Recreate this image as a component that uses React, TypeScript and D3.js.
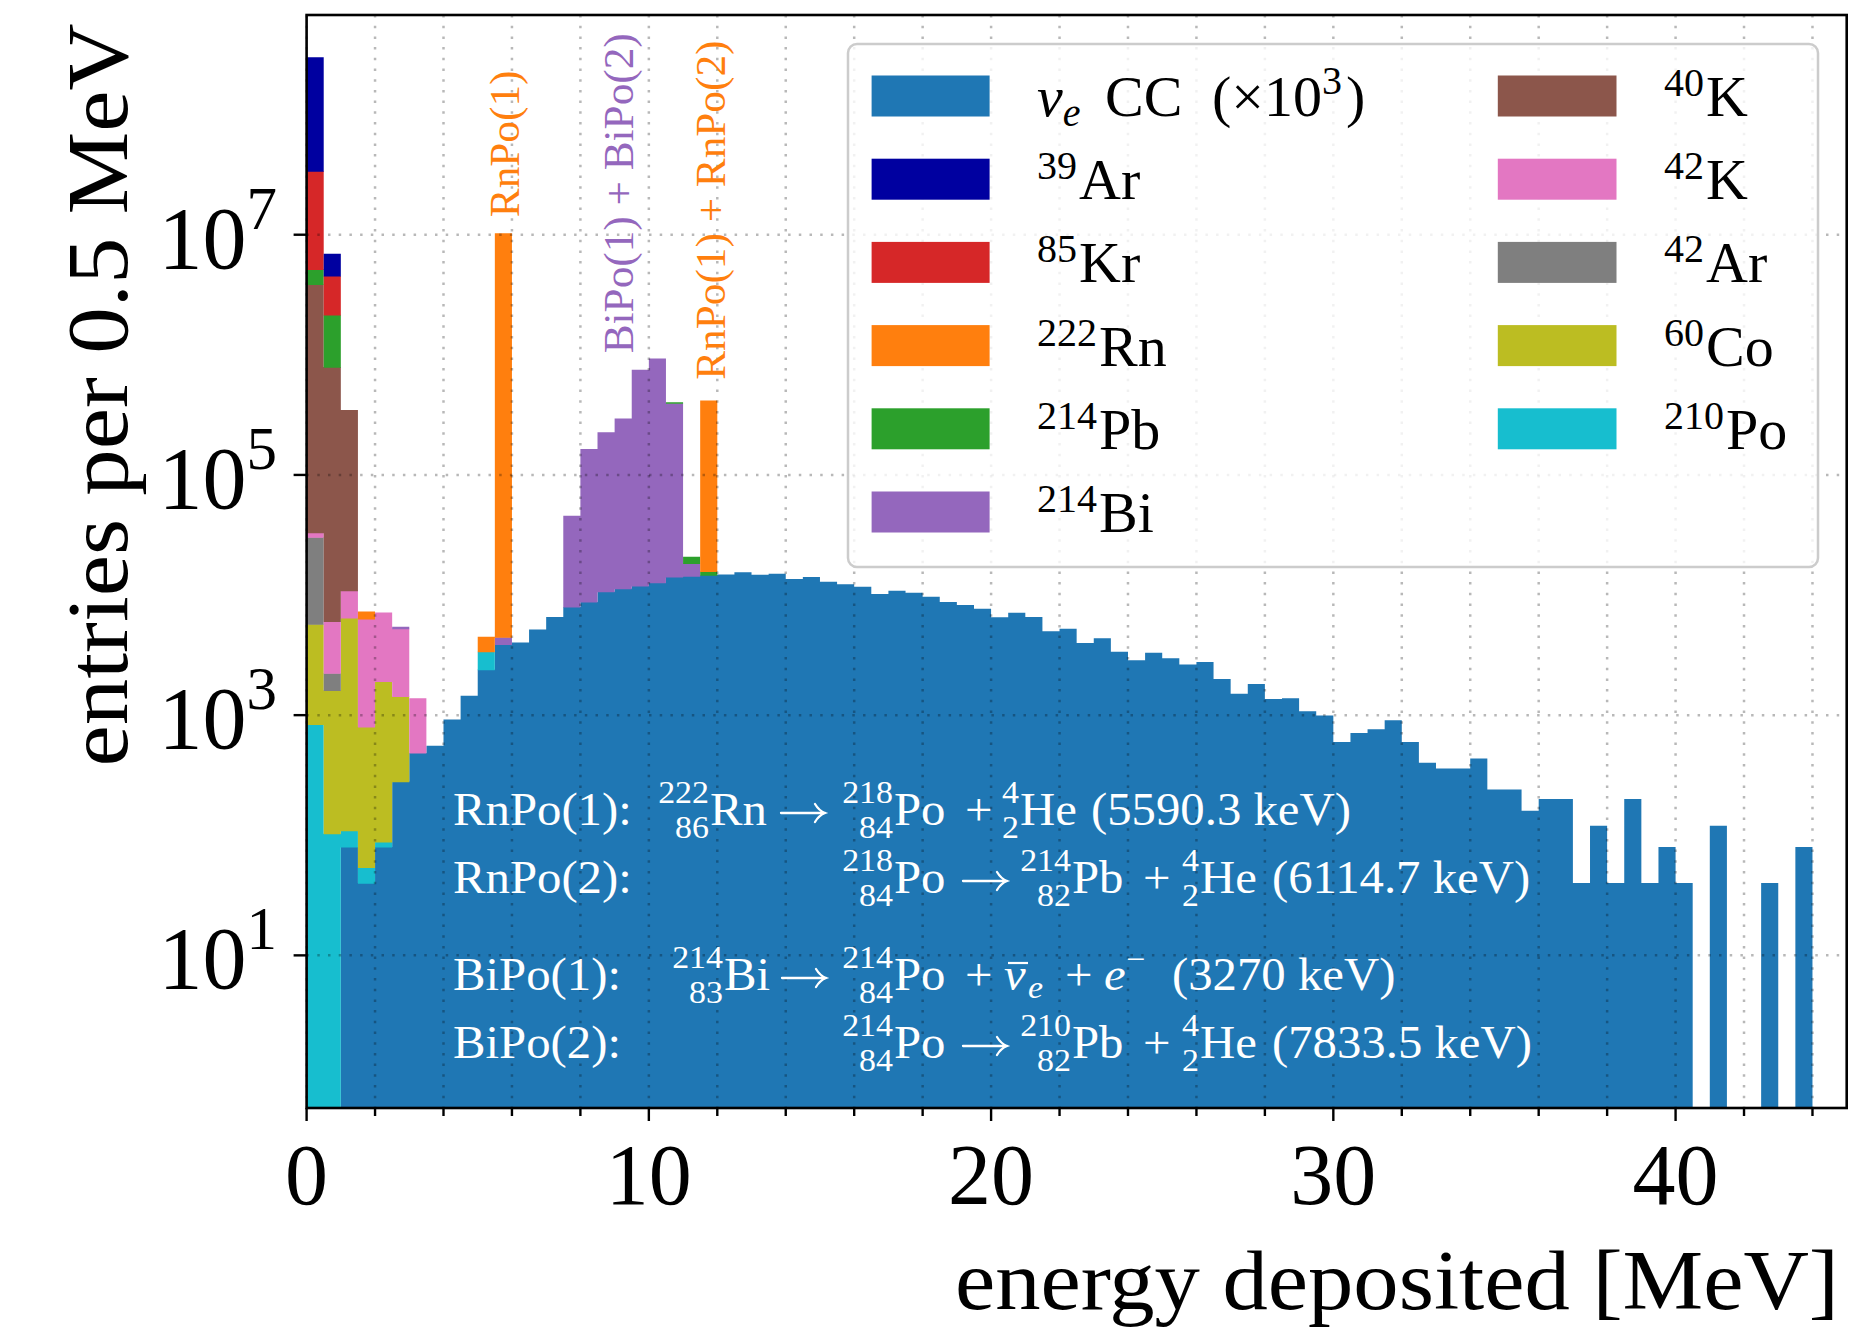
import React from 'react';
import * as d3 from 'd3';

const BIN = 0.5;
const N_BINS = 88;

// nu_e CC (x10^3) entries per 0.5 MeV bin, bins from 0 to 44 MeV
const nueCC = [
  0, 0, 80, 40, 80, 280, 485, 556, 918, 1452,
  2394, 3890, 4027, 5164, 6561, 7950, 8770, 10670, 11320, 11940,
  12670, 14160, 14390, 14660, 14860, 15450, 14760, 15070, 13580, 14130,
  12910, 12270, 11720, 10190, 10860, 10450, 9680, 8750, 8260, 7690,
  6520, 7130, 6560, 4990, 5250, 3980, 4370, 3370, 2870, 3300,
  2970, 2640, 2770, 2000, 1510, 1820, 1360, 1380, 1080, 995,
  598, 711, 764, 908, 598, 402, 360, 360, 436, 240,
  240, 160, 200, 200, 40, 120, 40, 200, 40, 80,
  40, 0, 120, 0, 0, 40, 0, 80,
];

// backgrounds: [bin low edge in MeV, entries]
const po210: [number, number][] = [[0, 839], [0.5, 103], [1, 29], [1.5, 14], [2, 8], [5, 979]];
const co60: [number, number][] = [[0, 4876], [0.5, 1504], [1, 6347], [1.5, 746], [2, 1822], [2.5, 1151]];
const ar42: [number, number][] = [[0, 24600], [0.5, 627]];
const k42: [number, number][] = [[0, 2700], [0.5, 3790], [1, 4430], [1.5, 5520], [2, 5250], [2.5, 3830], [3, 900]];
const k40: [number, number][] = [[0, 3.82e6], [0.5, 7.85e5], [1, 3.37e5]];
const bi214: [number, number][] = [
  [2.5, 185], [5.5, 567], [7.5, 37800], [8, 156000], [8.5, 216000], [9, 284000],
  [9.5, 740000], [10, 918000], [10.5, 381000], [11, 3930],
];
const pb214: [number, number][] = [[0, 1.3e6], [0.5, 1.36e6], [10.5, 8000], [11, 2480], [11.5, 1040]];
const rn222: [number, number][] = [[1.5, 987], [5, 1118], [5.5, 1.03e7], [11.5, 4.0e5]];
const kr85: [number, number][] = [[0, 2.87e7], [0.5, 2.39e6]];
const ar39: [number, number][] = [[0, 2.67e8], [0.5, 2.41e6]];

const xTicksMajor = [0, 10, 20, 30, 40];
const yTicks = [1e1, 1e3, 1e5, 1e7];

const toBins = (pairs: [number, number][]) => {
  const arr = new Array(N_BINS).fill(0);
  pairs.forEach(([e, v]) => { arr[Math.round(e / BIN)] = v; });
  return arr;
};

// stacking order, bottom to top
const stackDefs = [
  { key: 'nue', color: '#1f77b4', values: nueCC },
  { key: 'po210', color: '#17becf', values: toBins(po210) },
  { key: 'co60', color: '#bcbd22', values: toBins(co60) },
  { key: 'ar42', color: '#7f7f7f', values: toBins(ar42) },
  { key: 'k42', color: '#e377c2', values: toBins(k42) },
  { key: 'k40', color: '#8c564b', values: toBins(k40) },
  { key: 'bi214', color: '#9467bd', values: toBins(bi214) },
  { key: 'pb214', color: '#2ca02c', values: toBins(pb214) },
  { key: 'rn222', color: '#ff7f0e', values: toBins(rn222) },
  { key: 'kr85', color: '#d62728', values: toBins(kr85) },
  { key: 'ar39', color: '#0000a0', values: toBins(ar39) },
];
const colorOf: Record<string, string> = {};
stackDefs.forEach(s => { colorOf[s.key] = s.color; });

const legendLeft: [string, string, string][] = [
  ['nue', '', ''], ['ar39', '39', 'Ar'], ['kr85', '85', 'Kr'],
  ['rn222', '222', 'Rn'], ['pb214', '214', 'Pb'], ['bi214', '214', 'Bi'],
];
const legendRight: [string, string, string][] = [
  ['k40', '40', 'K'], ['k42', '42', 'K'], ['ar42', '42', 'Ar'],
  ['co60', '60', 'Co'], ['po210', '210', 'Po'],
];

const peakLabels = [
  { text: 'RnPo(1)', e: 5.75, at: 1.4e7, color: '#ff7f0e' },
  { text: 'BiPo(1) + BiPo(2)', e: 9.07, at: 1.03e6, color: '#9467bd' },
  { text: 'RnPo(1) + RnPo(2)', e: 11.76, at: 6.2e5, color: '#ff7f0e' },
];

type Seg = { x: number; t?: string; nuc?: [string, string, string]; kind?: string };
const decayLines: { y: number; segs: Seg[] }[] = [
  { y: 825, segs: [
    { x: 453, t: 'RnPo(1):' }, { x: 710, nuc: ['222', '86', 'Rn'] }, { x: 781, kind: 'arrow' },
    { x: 894, nuc: ['218', '84', 'Po'] }, { x: 965, t: '+' }, { x: 1020, nuc: ['4', '2', 'He'] },
    { x: 1091, t: '(5590.3 keV)' },
  ] },
  { y: 893, segs: [
    { x: 453, t: 'RnPo(2):' }, { x: 894, nuc: ['218', '84', 'Po'] }, { x: 963, kind: 'arrow' },
    { x: 1072, nuc: ['214', '82', 'Pb'] }, { x: 1143, t: '+' }, { x: 1200, nuc: ['4', '2', 'He'] },
    { x: 1272, t: '(6114.7 keV)' },
  ] },
  { y: 990, segs: [
    { x: 453, t: 'BiPo(1):' }, { x: 724, nuc: ['214', '83', 'Bi'] }, { x: 782, kind: 'arrow' },
    { x: 894, nuc: ['214', '84', 'Po'] }, { x: 965, t: '+' }, { x: 1004, kind: 'nubar' },
    { x: 1065, t: '+' }, { x: 1104, kind: 'electron' }, { x: 1172, t: '(3270 keV)' },
  ] },
  { y: 1058, segs: [
    { x: 453, t: 'BiPo(2):' }, { x: 894, nuc: ['214', '84', 'Po'] }, { x: 963, kind: 'arrow' },
    { x: 1072, nuc: ['210', '82', 'Pb'] }, { x: 1143, t: '+' }, { x: 1200, nuc: ['4', '2', 'He'] },
    { x: 1272, t: '(7833.5 keV)' },
  ] },
];

const W = 1849;
const H = 1332;
const left = 306.6;
const right = 1846.7;
const top = 15;
const bottom = 1108;
const yMin = 0.536;

const FONT = "'Liberation Serif', 'DejaVu Serif', serif";
const SX = 1.06; // widen glyphs a little, closer to Computer Modern

// text stretched horizontally around its anchor point
const T: React.FC<{ x: number; y: number; size?: number; anchor?: string; italic?: boolean; children: React.ReactNode }> =
  ({ x, y, size, anchor, italic, children }) => (
    <text transform={`translate(${x},${y}) scale(${SX},1)`} fontSize={size}
      textAnchor={anchor} fontStyle={italic ? 'italic' : undefined}>{children}</text>
  );

const App: React.FC = () => {
  const x = d3.scaleLinear().domain([0, 45]).range([left, right]);
  const y = d3.scaleLog().domain([yMin, 6.75e8]).range([bottom, top]).clamp(true);

  const rows = d3.range(N_BINS).map(i => {
    const r: Record<string, number> = {};
    stackDefs.forEach(s => { r[s.key] = s.values[i]; });
    return r;
  });
  const stacked = d3.stack<Record<string, number>>().keys(stackDefs.map(s => s.key))(rows);

  const seriesPath = (s: d3.Series<Record<string, number>, string>) =>
    s.map((pt, i) => {
      if (pt[1] - pt[0] <= 0) return '';
      const x0 = x(i * BIN);
      const x1 = x((i + 1) * BIN);
      const yt = y(Math.max(pt[1], yMin));
      const yb = pt[0] > yMin ? y(pt[0]) + 0.6 : bottom;
      return `M${x0},${yt}H${x1}V${yb}H${x0}Z`;
    }).join('');

  const gridX = d3.range(0, 45, 2);
  const minorX = gridX.filter(v => v % 10 !== 0);

  const fsA = 46;
  const fsS = 32;

  const legendRow = (i: number) => 96 + i * 83.2;

  return (
    <div style={{ position: 'absolute', left: 0, top: 0 }}>
      <svg width={W} height={H} style={{ display: 'block', background: '#fff', fontFamily: FONT }}>
        <defs>
          <clipPath id="plot">
            <rect x={left} y={top} width={right - left} height={bottom - top} />
          </clipPath>
        </defs>

        <g clipPath="url(#plot)">
          {stacked.map(s => (
            <path key={s.key} d={seriesPath(s)} fill={colorOf[s.key]} />
          ))}
        </g>

        {/* grid */}
        <g stroke="#000" strokeOpacity={0.28} strokeWidth={2.5} strokeDasharray="2.5 8.2">
          {gridX.map(v => (
            <line key={'gx' + v} x1={x(v)} x2={x(v)} y1={top} y2={bottom} />
          ))}
          {yTicks.map(v => (
            <line key={'gy' + v} x1={left} x2={right} y1={y(v)} y2={y(v)} />
          ))}
        </g>

        {/* peak labels */}
        {peakLabels.map(p => (
          <text key={p.text} transform={`translate(${x(p.e) + 16},${y(p.at)}) rotate(-90) scale(1.03,1)`}
            fontSize={42} fill={p.color}>{p.text}</text>
        ))}

        {/* decay annotations */}
        <g fill="#fff" fontSize={fsA}>
          {decayLines.map((ln, li) => (
            <g key={li}>
              {ln.segs.map((sg, si) => {
                if (sg.nuc) {
                  return (
                    <g key={si}>
                      <T x={sg.x - 1} y={ln.y - 22} size={fsS} anchor="end">{sg.nuc[0]}</T>
                      <T x={sg.x - 1} y={ln.y + 13} size={fsS} anchor="end">{sg.nuc[1]}</T>
                      <T x={sg.x} y={ln.y}>{sg.nuc[2]}</T>
                    </g>
                  );
                }
                if (sg.kind === 'arrow') {
                  const ay = ln.y - 12;
                  const ax = sg.x;
                  return (
                    <path key={si} fill="none" stroke="#fff" strokeWidth={2.3} strokeLinecap="round"
                      d={`M${ax},${ay}H${ax + 44}M${ax + 34},${ay - 9}C${ax + 37},${ay - 4} ${ax + 40},${ay - 1.5} ${ax + 44},${ay}C${ax + 40},${ay + 1.5} ${ax + 37},${ay + 4} ${ax + 34},${ay + 9}`} />
                  );
                }
                if (sg.kind === 'nubar') {
                  return (
                    <g key={si}>
                      <T x={sg.x} y={ln.y} italic>ν</T>
                      <line x1={sg.x + 4} x2={sg.x + 24} y1={ln.y - 27} y2={ln.y - 27} stroke="#fff" strokeWidth={2.2} />
                      <T x={sg.x + 24} y={ln.y + 8} size={fsS} italic>e</T>
                    </g>
                  );
                }
                if (sg.kind === 'electron') {
                  return (
                    <g key={si}>
                      <T x={sg.x} y={ln.y} italic>e</T>
                      <T x={sg.x + 22} y={ln.y - 20} size={fsS}>−</T>
                    </g>
                  );
                }
                return <T key={si} x={sg.x} y={ln.y}>{sg.t}</T>;
              })}
            </g>
          ))}
        </g>

        {/* legend */}
        <rect x={848} y={44} width={970} height={523} rx={9} fill="#fff" fillOpacity={0.8}
          stroke="#cccccc" strokeWidth={2.5} />
        {legendLeft.map(([key, mass, sym], i) => {
          const cy = legendRow(i);
          return (
            <g key={key}>
              <rect x={871.6} y={cy - 20.5} width={118} height={41} fill={colorOf[key]} />
              {key === 'nue' ? (
                <text x={1037} y={cy + 20} fontSize={58}>
                  <tspan fontStyle="italic">ν</tspan>
                  <tspan fontStyle="italic" fontSize={40} dy={10}>e</tspan>
                  <tspan x={1105} dy={-10}>CC</tspan>
                  <tspan x={1212}>(×10</tspan>
                  <tspan fontSize={40} dy={-22}>3</tspan>
                  <tspan dy={22} dx={4}>)</tspan>
                </text>
              ) : (
                <text x={1037} y={cy + 20} fontSize={58}>
                  <tspan fontSize={40} dy={-20}>{mass}</tspan>
                  <tspan dy={20} dx={2}>{sym}</tspan>
                </text>
              )}
            </g>
          );
        })}
        {legendRight.map(([key, mass, sym], i) => {
          const cy = legendRow(i);
          return (
            <g key={key}>
              <rect x={1497.8} y={cy - 20.5} width={118.7} height={41} fill={colorOf[key]} />
              <text x={1664} y={cy + 20} fontSize={58}>
                <tspan fontSize={40} dy={-20}>{mass}</tspan>
                <tspan dy={20} dx={2}>{sym}</tspan>
              </text>
            </g>
          );
        })}

        {/* axes frame */}
        <rect x={left} y={top} width={right - left} height={bottom - top} fill="none" stroke="#000" strokeWidth={2.6} />

        {/* ticks */}
        <g stroke="#000" strokeWidth={2.4}>
          {xTicksMajor.map(v => (
            <line key={'xt' + v} x1={x(v)} x2={x(v)} y1={bottom} y2={bottom + 13} />
          ))}
          {minorX.map(v => (
            <line key={'xm' + v} x1={x(v)} x2={x(v)} y1={bottom} y2={bottom + 8} />
          ))}
          {yTicks.map(v => (
            <line key={'yt' + v} x1={left - 13} x2={left} y1={y(v)} y2={y(v)} />
          ))}
        </g>
        {xTicksMajor.map(v => (
          <text key={'xl' + v} x={x(v)} y={1204} textAnchor="middle" fontSize={86}>{v}</text>
        ))}
        {yTicks.map(v => (
          <text key={'yl' + v} x={277} y={y(v) + 33} textAnchor="end" fontSize={88}>
            10<tspan fontSize={61} dy={-39}>{Math.round(Math.log10(v))}</tspan>
          </text>
        ))}

        {/* axis labels */}
        <text x={955} y={1309} fontSize={84} textLength={884} lengthAdjust="spacingAndGlyphs">
          energy deposited [MeV]
        </text>
        <text transform="translate(127,766.5) rotate(-90)" fontSize={86} textLength={743}
          lengthAdjust="spacingAndGlyphs">
          entries per 0.5 MeV
        </text>
      </svg>
    </div>
  );
};

export default App;
